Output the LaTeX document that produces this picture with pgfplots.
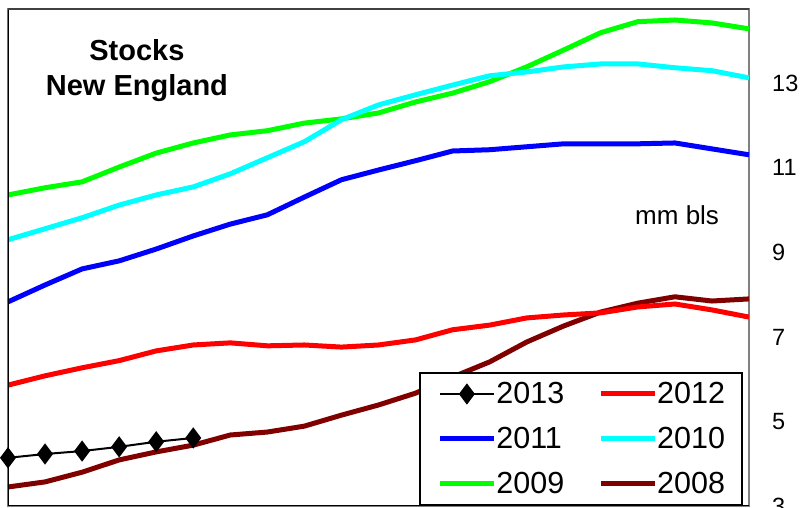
\documentclass[border=0pt]{standalone}
\usepackage{pgfplots}
\usepackage{pgfplotstable}
\pgfplotsset{compat=1.18}
\usepackage{fontspec}
\setmainfont{Liberation Sans}

% weekly stocks, mm bls
\pgfplotstableread{
w   y2008 y2009 y2010 y2011 y2012
0   3.45  10.36  9.30  7.83  5.86
1   3.57  10.53  9.56  8.23  6.08
2   3.80  10.67  9.82  8.61  6.27
3   4.09  11.02 10.12  8.80  6.44
4   4.28  11.35 10.36  9.08  6.67
5   4.44  11.59 10.55  9.39  6.81
6   4.68  11.78 10.86  9.67  6.86
7   4.75  11.88 11.24  9.89  6.79
8   4.89  12.06 11.62 10.31  6.81
9   5.15  12.16 12.14 10.72  6.76
10  5.39  12.30 12.49 10.95  6.81
11  5.67  12.56 12.73 11.17  6.93
12  6.05  12.77 12.96 11.40  7.17
13  6.41  13.04 13.18 11.43  7.28
14  6.88  13.39 13.27 11.50  7.45
15  7.26  13.79 13.39 11.57  7.52
16  7.59  14.20 13.46 11.57  7.57
17  7.80  14.46 13.46 11.57  7.71
18  7.95  14.50 13.37 11.59  7.78
19  7.85  14.43 13.30 11.45  7.64
20  7.90  14.29 13.13 11.31  7.47
}\stocks

\pgfplotstableread{
w   y2013
0   4.14
1   4.23
2   4.30
3   4.40
4   4.52
5   4.61
}\stocksnew

\definecolor{c2008}{RGB}{128,0,0}
\definecolor{c2009}{RGB}{0,255,0}
\definecolor{c2010}{RGB}{0,255,255}
\definecolor{c2011}{RGB}{0,0,255}
\definecolor{c2012}{RGB}{255,0,0}

\begin{document}
\begin{tikzpicture}
\begin{axis}[
    width=741pt, height=497pt,
    scale only axis,
    xmin=0, xmax=20,
    ymin=3, ymax=14.76,
    xtick=\empty,
    ytick={3,5,...,13},
    ytick pos=right,
    yticklabel pos=right,
    major tick length=0pt,
    yticklabel style={anchor=west, inner sep=0pt, xshift=23pt,
        font=\fontsize{23.5}{27}\selectfont},
    /pgf/number format/assume math mode=true,
    axis line style={draw=gray, line width=1.5pt},
    legend columns=2,
    legend cell align=left,
    legend image code/.code={%
        \draw[mark repeat=2,mark phase=2,#1]
            plot coordinates {(0pt,0pt) (27pt,0pt) (54pt,0pt)};},
    legend style={
        at={(rel axis cs:0.992,0)}, anchor=south east,
        draw=black, line width=2pt,
        font=\fontsize{30.5}{34}\selectfont,
        inner xsep=17pt, inner ysep=10pt,
        row sep=23pt,
        /tikz/column 2/.style={column sep=34pt},
        nodes={inner xsep=0pt, inner ysep=0pt, text height=21pt, text depth=1pt},
    },
]
\addlegendimage{black, line width=2pt, mark=diamond*, mark size=9pt}
\addlegendentry{2013}
\addlegendimage{c2012, line width=5pt}
\addlegendentry{2012}
\addlegendimage{c2011, line width=5pt}
\addlegendentry{2011}
\addlegendimage{c2010, line width=5pt}
\addlegendentry{2010}
\addlegendimage{c2009, line width=5pt}
\addlegendentry{2009}
\addlegendimage{c2008, line width=5pt}
\addlegendentry{2008}

\addplot[c2008, line width=5pt, forget plot] table[x=w, y=y2008] {\stocks};
\addplot[c2009, line width=5pt, forget plot] table[x=w, y=y2009] {\stocks};
\addplot[c2010, line width=5pt, forget plot] table[x=w, y=y2010] {\stocks};
\addplot[c2011, line width=5pt, forget plot] table[x=w, y=y2011] {\stocks};
\addplot[c2012, line width=5pt, forget plot] table[x=w, y=y2012] {\stocks};
\addplot[black, line width=2pt, mark=diamond*, mark size=9pt, forget plot]
    table[x=w, y=y2013] {\stocksnew};

\draw[black, line width=1.5pt] (rel axis cs:0,1) -- (rel axis cs:0,0) -- (rel axis cs:1,0);
\draw[black!75, line width=1.5pt] (rel axis cs:0,1) -- (rel axis cs:1,1);

\node[align=center, font=\bfseries\fontsize{29}{35}\selectfont]
    at (rel axis cs:0.174,0.877) {Stocks\\New England};
\node[font=\fontsize{26}{29}\selectfont] at (rel axis cs:0.903,0.5855) {mm bls};
\end{axis}
\pgfresetboundingbox
\path[use as bounding box]
    ([shift={(-8pt,-2pt)}]current axis.south west) rectangle
    ([shift={(795pt,506pt)}]current axis.south west);
\end{tikzpicture}
\end{document}
